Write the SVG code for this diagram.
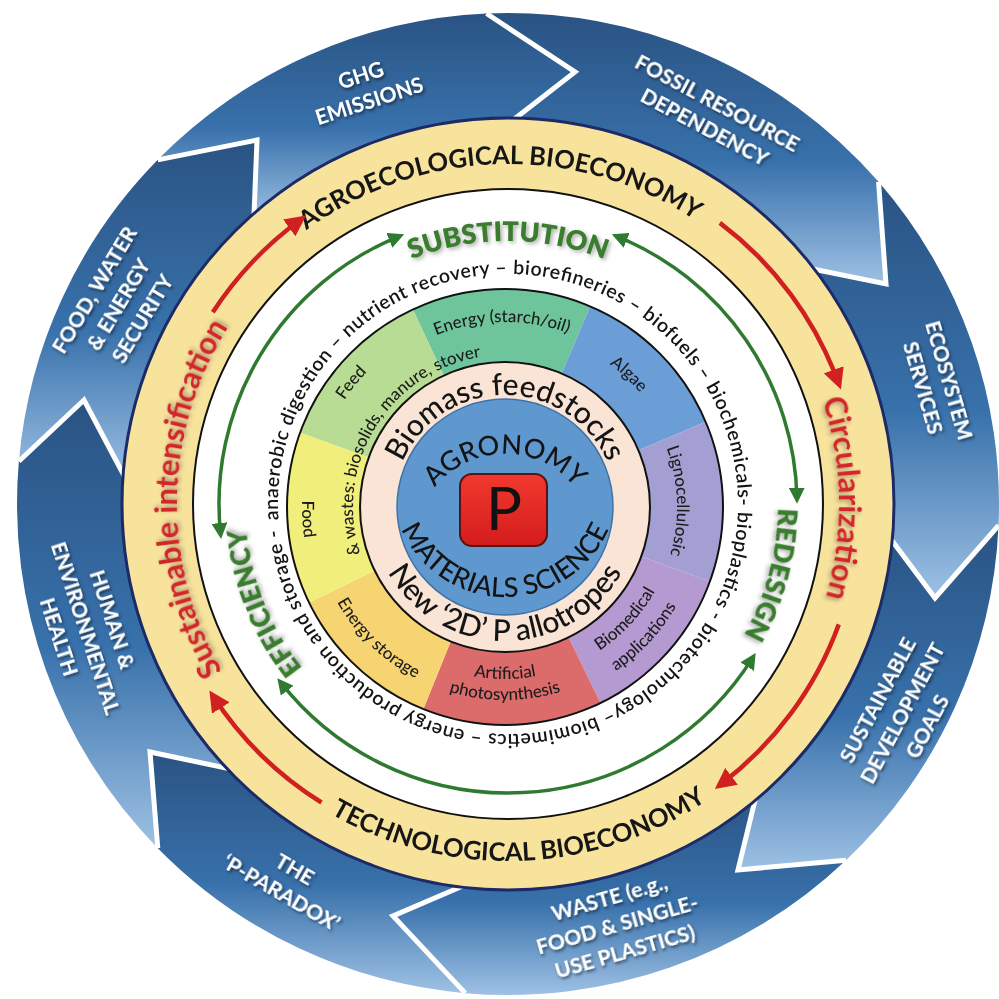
<svg xmlns="http://www.w3.org/2000/svg" width="999" height="999" viewBox="0 0 999 999">
<defs>
<linearGradient id="bg" x1="0" y1="0" x2="0" y2="1">
<stop offset="0" stop-color="#2a5383"/>
<stop offset="0.55" stop-color="#3871ab"/>
<stop offset="1" stop-color="#9ec1e4"/>
</linearGradient>
<linearGradient id="pg" x1="0" y1="0" x2="0" y2="1">
<stop offset="0" stop-color="#f2392f"/>
<stop offset="1" stop-color="#d31c1c"/>
</linearGradient>
<filter id="sh" x="-20%" y="-30%" width="140%" height="160%"><feDropShadow dx="1.5" dy="2" stdDeviation="1.5" flood-color="#000" flood-opacity="0.55"/></filter>
<filter id="sh2" x="-20%" y="-30%" width="140%" height="160%"><feDropShadow dx="2" dy="2" stdDeviation="2" flood-color="#444" flood-opacity="0.45"/></filter>
<marker id="gh" viewBox="0 0 10 10" refX="7" refY="5" markerWidth="16" markerHeight="16" markerUnits="userSpaceOnUse" orient="auto-start-reverse"><path d="M0,0 L10,5 L0,10 z" fill="#2f7a30"/></marker>
<marker id="rh" viewBox="0 0 10 10" refX="7" refY="5" markerWidth="21" markerHeight="21" markerUnits="userSpaceOnUse" orient="auto"><path d="M0,0 L10,5 L0,10 z" fill="#d0201f"/></marker>
<path id="c340" d="M0,340 A340,340 0 1 1 0,-340 A340,340 0 1 1 0,340"/>
<path id="k357" d="M0,-357 A357,357 0 1 0 0,357 A357,357 0 1 0 0,-357"/>
<path id="c331" d="M0,331 A331,331 0 1 1 0,-331 A331,331 0 1 1 0,331"/>
<path id="c263" d="M0,263 A263,263 0 1 1 0,-263 A263,263 0 1 1 0,263"/>
<path id="c270" d="M0,270 A270,270 0 1 1 0,-270 A270,270 0 1 1 0,270"/>
<path id="ring" d="M-229.44,16.04 A230,230 0 1 1 229.44,-16.04 A230,230 0 1 1 -229.44,16.04"/>
<path id="c185" d="M0,185 A185,185 0 1 1 0,-185 A185,185 0 1 1 0,185"/>
<path id="c152" d="M0,152 A152,152 0 1 1 0,-152 A152,152 0 1 1 0,152"/>
<path id="c193" d="M0,193 A193,193 0 1 1 0,-193 A193,193 0 1 1 0,193"/>
<path id="c177" d="M0,177 A177,177 0 1 1 0,-177 A177,177 0 1 1 0,177"/>
<path id="c172" d="M0,172 A172,172 0 1 1 0,-172 A172,172 0 1 1 0,172"/>
<path id="k172" d="M0,-172 A172,172 0 1 0 0,172 A172,172 0 1 0 0,-172"/>
<path id="k198" d="M0,-198 A198,198 0 1 0 0,198 A198,198 0 1 0 0,-198"/>
<path id="k193" d="M0,-193 A193,193 0 1 0 0,193 A193,193 0 1 0 0,-193"/>
<path id="k203" d="M0,-203 A203,203 0 1 0 0,203 A203,203 0 1 0 0,-203"/>
<path id="c112" d="M0,112 A112,112 0 1 1 0,-112 A112,112 0 1 1 0,112"/>
<path id="k134" d="M0,-134 A134,134 0 1 0 0,134 A134,134 0 1 0 0,-134"/>
<path id="agr" d="M0,127 A90,90 0 1 1 0,-53 A90,90 0 1 1 0,127"/>
<path id="mat" d="M0,-136 A113,113 0 1 0 0,90 A113,113 0 1 0 0,-136"/>
</defs>
<style>
.seg{fill:url(#bg)}
.wv{fill:none;stroke:#fff;stroke-width:5;stroke-linejoin:miter}
.lbl{font-family:Lato,"Open Sans",sans-serif;font-weight:700;fill:#fff;font-size:21px;text-anchor:middle}
.yr{font-family:Lato,"Open Sans",sans-serif;font-weight:700;font-size:25.5px;fill:#161616}
.red{font-family:Lato,"Open Sans",sans-serif;font-weight:700;font-size:31px;fill:#d2282a}
.grn{font-family:Lato,"Open Sans",sans-serif;font-weight:800;font-size:27px;fill:#3b7d2f}
.ring{font-family:Lato,"Open Sans",sans-serif;font-weight:600;font-size:19.5px;fill:#141414}
.wl{font-family:Lato,"Open Sans",sans-serif;font-weight:500;font-size:17px;fill:#1c1c1c}
.big{font-family:Lato,"Open Sans",sans-serif;font-weight:500;font-size:30px;fill:#141414}
.mid{font-family:Lato,"Open Sans",sans-serif;font-weight:500;font-size:27px;fill:#141414}
.ga{fill:none;stroke:#2f7a30;stroke-width:3.5}
.ra{fill:none;stroke:#d0201f;stroke-width:4.5}
</style>

<g id="outer-ring" transform="translate(508,504)">
<g id="seg-ghg"><path class="seg" d="M-350.21,-344.15 A491,491 0 0 1 -21.42,-490.53 L67,-432 L0,-380 A380,380 0 0 0 -254.27,-282.39 L-251,-364 Z"/></g>
<g id="seg-fossil"><path class="seg" d="M-21.42,-490.53 A491,491 0 0 1 370.56,-322.13 L378,-220 L297.39,-236.55 A380,380 0 0 0 0,-380 L67,-432 Z"/></g>
<g id="seg-eco"><path class="seg" d="M370.56,-322.13 A491,491 0 0 1 490.53,21.42 L427,94 L378.83,29.81 A380,380 0 0 0 297.39,-236.55 L378,-220 Z"/></g>
<g id="seg-sdg"><path class="seg" d="M490.53,21.42 A491,491 0 0 1 337.98,356.16 L230,366 L249.30,286.79 A380,380 0 0 0 378.83,29.81 L427,94 Z"/></g>
<g id="seg-waste"><path class="seg" d="M337.98,356.16 A491,491 0 0 1 -42.79,489.13 L-115,412 L-36.42,378.25 A380,380 0 0 0 249.30,286.79 L230,366 Z"/></g>
<g id="seg-pparadox"><path class="seg" d="M-42.79,489.13 A491,491 0 0 1 -350.21,344.15 L-358,248 L-271.04,266.35 A380,380 0 0 0 -36.42,378.25 L-115,412 Z"/></g>
<g id="seg-human"><path class="seg" d="M-350.21,344.15 A491,491 0 0 1 -489.13,-42.79 L-424,-104 L-379.48,-19.89 A380,380 0 0 0 -271.04,266.35 L-358,248 Z"/></g>
<g id="seg-food"><path class="seg" d="M-489.13,-42.79 A491,491 0 0 1 -350.21,-344.15 L-251,-364 L-254.27,-282.39 A380,380 0 0 0 -379.48,-19.89 L-424,-104 Z"/></g>
<g id="seg-tips">
<polyline class="wv" points="-21.42,-490.53 67,-432 0,-380"/>
<polyline class="wv" points="370.56,-322.13 378,-220 297.39,-236.55"/>
<polyline class="wv" points="490.53,21.42 427,94 378.83,29.81"/>
<polyline class="wv" points="337.98,356.16 230,366 249.30,286.79"/>
<polyline class="wv" points="-42.79,489.13 -115,412 -36.42,378.25"/>
<polyline class="wv" points="-350.21,344.15 -358,248 -271.04,266.35"/>
<polyline class="wv" points="-489.13,-42.79 -424,-104 -379.48,-19.89"/>
<polyline class="wv" points="-350.21,-344.15 -251,-364 -254.27,-282.39"/>
</g>
</g>

<g id="outer-labels" filter="url(#sh)">
<text class="lbl" transform="translate(365,88) rotate(-18)"><tspan x="0" y="-6">GHG</tspan><tspan x="0" y="21">EMISSIONS</tspan></text>
<text class="lbl" transform="translate(711,115) rotate(28)"><tspan x="0" y="-6">FOSSIL RESOURCE</tspan><tspan x="0" y="21">DEPENDENCY</tspan></text>
<text class="lbl" transform="translate(936,384) rotate(74)"><tspan x="0" y="-6">ECOSYSTEM</tspan><tspan x="0" y="21">SERVICES</tspan></text>
<text class="lbl" transform="translate(902,713) rotate(-62)"><tspan x="0" y="-20">SUSTAINABLE</tspan><tspan x="0" y="8">DEVELOPMENT</tspan><tspan x="0" y="36">GOALS</tspan></text>
<text class="lbl" transform="translate(617,924) rotate(-16)"><tspan x="0" y="-20">WASTE (e.g.,</tspan><tspan x="0" y="8">FOOD &amp; SINGLE-</tspan><tspan x="0" y="36">USE PLASTICS)</tspan></text>
<text class="lbl" transform="translate(288,881) rotate(30)"><tspan x="0" y="-6">THE</tspan><tspan x="0" y="21">‘P-PARADOX’</tspan></text>
<text class="lbl" transform="translate(86,628) rotate(72)"><tspan x="0" y="-20">HUMAN &amp;</tspan><tspan x="0" y="8">ENVIRONMENTAL</tspan><tspan x="0" y="36">HEALTH</tspan></text>
<text class="lbl" transform="translate(118,304) rotate(-59)"><tspan x="0" y="-20">FOOD, WATER</tspan><tspan x="0" y="8">&amp; ENERGY</tspan><tspan x="0" y="36">SECURITY</tspan></text>
</g>

<g id="bioeconomy-ring" transform="translate(508,504)">
<circle r="386" fill="#f8e39c" stroke="#1c2a66" stroke-width="3"/>
<circle r="315" fill="#ffffff" stroke="#111" stroke-width="2"/>
<text class="yr" transform="rotate(-1.5)"><textPath href="#c340" startOffset="50%" text-anchor="middle">AGROECOLOGICAL BIOECONOMY</textPath></text>
<text class="yr" transform="rotate(-2)"><textPath href="#k357" startOffset="50%" text-anchor="middle">TECHNOLOGICAL BIOECONOMY</textPath></text>
<text class="red" filter="url(#sh2)" transform="rotate(271)"><textPath href="#c331" startOffset="50%" text-anchor="middle">Sustainable intensification</textPath></text>
<text class="red" filter="url(#sh2)" transform="rotate(89)"><textPath href="#c331" startOffset="50%" text-anchor="middle">Circularization</textPath></text>
</g>

<g id="connectors" transform="translate(508,504)">
<path class="ra" marker-end="url(#rh)" d="M-295.21,-191.71 A352,352 0 0 1 -206.90,-284.77"/>
<path class="ra" marker-end="url(#rh)" d="M211.84,-281.12 A352,352 0 0 1 330.77,-120.39"/>
<path class="ra" marker-end="url(#rh)" d="M330.77,120.39 A352,352 0 0 1 211.84,281.12"/>
<path class="ra" marker-end="url(#rh)" d="M-186.53,298.51 A352,352 0 0 1 -295.21,191.71"/>
<path class="ga" marker-start="url(#gh)" marker-end="url(#gh)" d="M-287.42,30.21 A289,289 0 0 1 -108.26,-267.95"/>
<path class="ga" marker-start="url(#gh)" marker-end="url(#gh)" d="M108.26,-267.95 A289,289 0 0 1 288.96,-5.04"/>
<path class="ga" marker-start="url(#gh)" marker-end="url(#gh)" d="M245.09,153.15 A289,289 0 0 1 -227.73,177.93"/>
</g>

<g id="strategies" transform="translate(508,504)">
<text class="grn" filter="url(#sh2)"><textPath href="#c263" startOffset="50%" text-anchor="middle">SUBSTITUTION</textPath></text>
<text class="grn" filter="url(#sh2)" transform="rotate(105)"><textPath href="#c270" startOffset="50%" text-anchor="middle">REDESIGN</textPath></text>
<text class="grn" filter="url(#sh2)" transform="rotate(248)"><textPath href="#c263" startOffset="50%" text-anchor="middle">EFFICIENCY</textPath></text>
<text class="ring"><textPath href="#ring" textLength="1435" lengthAdjust="spacing">anaerobic digestion – nutrient recovery – biorefineries – biofuels – biochemicals- bioplastics - biotechnology– biomimetics – energy production and storage - </textPath></text>
</g>

<g id="feedstocks" transform="translate(505,507)">
<g id="w-energy"><path fill="#6fc59b" d="M0,0 L-92.13,-197.58 A218,218 0 0 1 85.18,-200.67 Z"/><text class="wl" font-size="17.5" transform="rotate(-1)"><textPath href="#c185" startOffset="50%" text-anchor="middle">Energy (starch/oil)</textPath></text></g>
<g id="w-algae"><path fill="#6b9ed6" d="M0,0 L85.18,-200.67 A218,218 0 0 1 200.67,-85.18 Z"/><text class="wl" transform="rotate(43)"><textPath href="#c177" startOffset="50%" text-anchor="middle">Algae</textPath></text></g>
<g id="w-ligno"><path fill="#a39fd2" d="M0,0 L200.67,-85.18 A218,218 0 0 1 204.85,74.56 Z"/><text class="wl" transform="rotate(88)"><textPath href="#c172" startOffset="50%" text-anchor="middle">Lignocellulosic</textPath></text></g>
<g id="w-biomed"><path fill="#b59ad2" d="M0,0 L204.85,74.56 A218,218 0 0 1 95.57,195.94 Z"/><text class="wl" transform="rotate(-47)"><textPath href="#k172" startOffset="50%" text-anchor="middle">Biomedical</textPath></text><text class="wl" transform="rotate(-47)"><textPath href="#k198" startOffset="50%" text-anchor="middle">applications</textPath></text></g>
<g id="w-artph"><path fill="#dc6b6c" d="M0,0 L95.57,195.94 A218,218 0 0 1 -81.66,202.13 Z"/><text class="wl"><textPath href="#k172" startOffset="50%" text-anchor="middle">Artificial</textPath></text><text class="wl"><textPath href="#k193" startOffset="50%" text-anchor="middle">photosynthesis</textPath></text></g>
<g id="w-estore"><path fill="#f6d472" d="M0,0 L-81.66,202.13 A218,218 0 0 1 -195.94,95.57 Z"/><text class="wl" transform="rotate(44)"><textPath href="#k193" startOffset="50%" text-anchor="middle">Energy storage</textPath></text></g>
<g id="w-food"><path fill="#f1ef7b" d="M0,0 L-195.94,95.57 A218,218 0 0 1 -204.85,-74.56 Z"/><text class="wl" transform="rotate(86.5)"><textPath href="#k203" startOffset="50%" text-anchor="middle">Food</textPath></text></g>
<g id="w-feed"><path fill="#b8dc93" d="M0,0 L-204.85,-74.56 A218,218 0 0 1 -92.13,-197.58 Z"/><text class="wl" transform="rotate(309)"><textPath href="#c193" startOffset="50%" text-anchor="middle">Feed</textPath></text></g>
<circle r="218" fill="none" stroke="#111" stroke-width="2"/>
<text class="wl" transform="rotate(-58.5)"><textPath href="#c152" startOffset="50%" text-anchor="middle">&amp; wastes: biosolids, manure, stover</textPath></text>
<g id="peach"><circle r="145" fill="#fae4d5" stroke="#111" stroke-width="2"/>
<text class="big"><textPath href="#c112" startOffset="50%" text-anchor="middle">Biomass feedstocks</textPath></text>
<text class="big"><textPath href="#k134" startOffset="50%" text-anchor="middle">New ‘2D’ P allotropes</textPath></text></g>
<g id="core"><circle r="108" fill="#5f98cf" stroke="#3f72a8" stroke-width="1.5"/>
<text class="mid"><textPath href="#agr" startOffset="50%" text-anchor="middle">AGRONOMY</textPath></text>
<text class="mid" font-size="22.5"><textPath href="#mat" startOffset="50%" text-anchor="middle">MATERIALS SCIENCE</textPath></text>
<rect x="-45" y="-33" width="87" height="72" rx="12" fill="url(#pg)" stroke="#5a1212" stroke-width="2"/>
<text x="-1" y="23" font-family="Lato,'Open Sans',sans-serif" font-size="60" fill="#111" text-anchor="middle">P</text></g>
</g>
</svg>
